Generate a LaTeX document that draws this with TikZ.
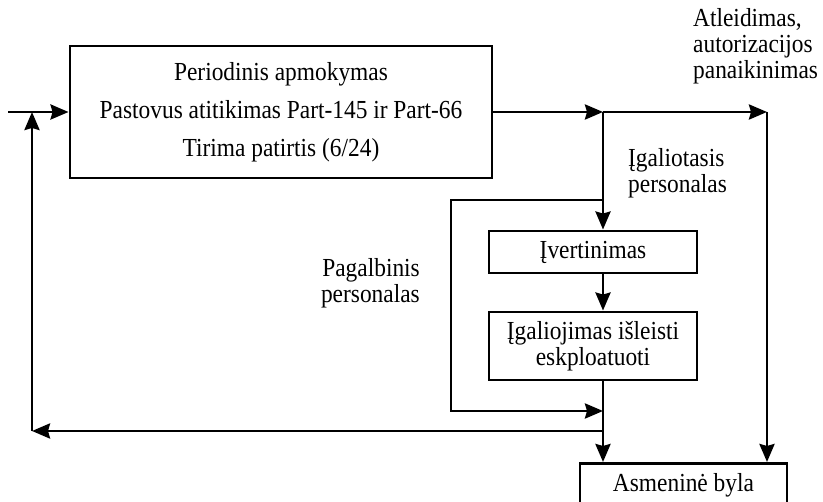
\documentclass[tikz,border=0pt]{standalone}
\usepackage{fontspec}
\setmainfont{Liberation Serif}[FakeStretch=0.9]
\usetikzlibrary{arrows.meta}
\tikzset{
  box/.style={draw, line width=2.9pt, inner sep=0pt},
  arr/.style={line width=2.9pt, -{Stealth[length=18pt,width=15pt,inset=2pt]}},
  lbl/.style={inner sep=0pt}
}
\begin{document}
\begin{tikzpicture}[x=1pt,y=-1pt, font=\fontsize{26pt}{26pt}\selectfont]
\clip (0,0) rectangle (823,502);
\node[box, align=center, minimum width=422pt, minimum height=132pt, font=\fontsize{26pt}{38pt}\selectfont] (train) at (281,112) {Periodinis apmokymas\\Pastovus atitikimas Part-145 ir Part-66\\Tirima patirtis (6/24)};
\node[box, minimum width=208pt, minimum height=42pt] (ivert) at (593,252) {Įvertinimas};
\node[box, align=center, minimum width=208pt, minimum height=68pt] (igal) at (593,346) {Įgaliojimas išleisti\\eskploatuoti};
\node[box, minimum width=207pt, text height=28pt, text depth=40pt, anchor=north] (byla) at (683.5,462) {Asmeninė byla};

\coordinate (in) at (8,112);
\coordinate (j1) at (603,112);
\coordinate (j2) at (767,112);
\coordinate (b1) at (603,200);
\coordinate (b2) at (451,200);
\coordinate (b3) at (451,411);
\coordinate (b4) at (603,411);
\coordinate (f1) at (603,431);
\coordinate (f2) at (32,431);
\coordinate (f3) at (32,112);

\draw[arr] (in) -- (train.west);
\draw[arr] (train.east) -- (j1);
\draw[arr] (j1) -- (j2);
\draw[arr] (j2) -- (j2 |- byla.north);
\draw[arr] (j1) -- (j1 |- ivert.north);
\draw[arr] (j1 |- ivert.south) -- (j1 |- igal.north);
\draw[arr] (j1 |- igal.south) -- (j1 |- byla.north);
\draw[arr] (b1) -- (b2) -- (b3) -- (b4);
\draw[arr] (f1) -- (f2);
\draw[arr] (f2) -- (f3);

\node[lbl, anchor=base west, align=left] (atl) at (693,79) {Atleidimas,\\autorizacijos\\panaikinimas};
\node[lbl, anchor=base west, align=left] (igl) at (628,193) {Įgaliotasis\\personalas};
\node[lbl, anchor=base east, align=right] (pag) at (420,303) {Pagalbinis\\personalas};
\end{tikzpicture}
\end{document}
